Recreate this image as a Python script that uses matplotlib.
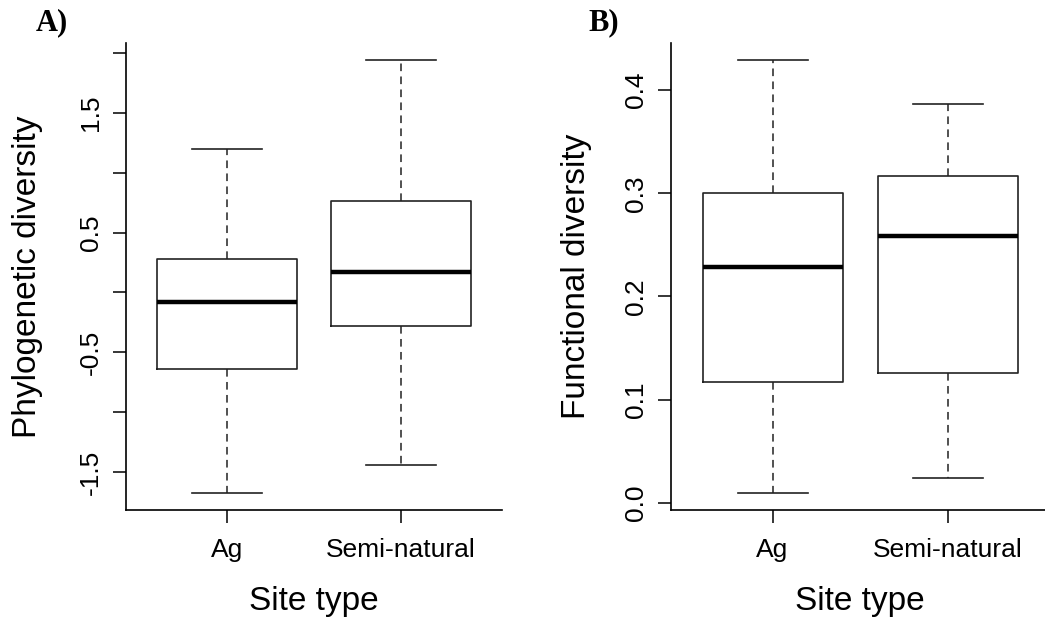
import numpy as np
import matplotlib.pyplot as plt

# Box statistics per site type: whisker low, Q1, median, Q3, whisker high
sites = ['Ag', 'Semi-natural']
pd_low = [-1.671, -1.443]
pd_q1 = [-0.638, -0.282]
pd_med = [-0.079, 0.167]
pd_q3 = [0.282, 0.763]
pd_high = [1.196, 1.938]

fd_low = [0.0097, 0.0235]
fd_q1 = [0.117, 0.1255]
fd_med = [0.229, 0.259]
fd_q3 = [0.300, 0.317]
fd_high = [0.429, 0.387]

pd_ticks = [-1.5, -1.0, -0.5, 0.0, 0.5, 1.0, 1.5, 2.0]
pd_ticklabels = ['-1.5', '', '-0.5', '', '0.5', '', '1.5', '']
fd_ticks = [0.0, 0.1, 0.2, 0.3, 0.4]
fd_ticklabels = ['0.0', '0.1', '0.2', '0.3', '0.4']

plt.rcParams['font.family'] = ['Liberation Sans', 'DejaVu Sans']

W, H = 1045, 627
fig = plt.figure(figsize=(W / 100, H / 100), dpi=100)


def stats(low, q1, med, q3, high):
    return [dict(whislo=a, q1=b, med=c, q3=d, whishi=e, fliers=[])
            for a, b, c, d, e in zip(low, q1, med, q3, high)]


def panel(x0, x1, st, ticks, ticklabels, ylabel, ylpad, letter, lx):
    ax = fig.add_axes([x0 / W, (H - 510) / H, (x1 - x0) / W, (510 - 43) / H])
    ax.bxp(st, positions=[1, 2], widths=0.8, showfliers=False,
           boxprops=dict(color='#222222', linewidth=1.2),
           medianprops=dict(color='black', linewidth=3.2),
           whiskerprops=dict(color='#222222', linewidth=1.1, linestyle=(0, (5, 3.5))),
           capprops=dict(color='#222222', linewidth=1.2),
           capwidths=0.4)
    lo = min(s['whislo'] for s in st)
    hi = max(s['whishi'] for s in st)
    ext = 0.04 * (hi - lo)
    ax.set_ylim(lo - ext, hi + ext)
    ax.set_xlim(0.42, 2.58)
    for s in ['top', 'right']:
        ax.spines[s].set_visible(False)
    for s in ['left', 'bottom']:
        ax.spines[s].set_linewidth(1.2)
    ax.set_yticks(ticks)
    ax.set_yticklabels(ticklabels, rotation=90, va='center')
    ax.set_xticks([1, 2])
    ax.set_xticklabels(sites)
    ax.tick_params(axis='both', length=9.4, width=1.1, labelsize=19)
    ax.tick_params(axis='y', pad=7)
    ax.tick_params(axis='x', pad=11)
    ax.set_xlabel('Site type', fontsize=24, labelpad=17)
    ax.set_ylabel(ylabel, fontsize=24, labelpad=ylpad)
    fig.text(lx / W, 1 - 23 / H, letter, family='Liberation Serif',
             fontweight='bold', fontsize=22, va='center', ha='left')
    return ax


panel(126, 502, stats(pd_low, pd_q1, pd_med, pd_q3, pd_high),
      pd_ticks, pd_ticklabels, 'Phylogenetic diversity', 26, 'A)', 36)
panel(671, 1049, stats(fd_low, fd_q1, fd_med, fd_q3, fd_high),
      fd_ticks, fd_ticklabels, 'Functional diversity', 23, 'B)', 588)

fig.savefig('out.png', dpi=100)
